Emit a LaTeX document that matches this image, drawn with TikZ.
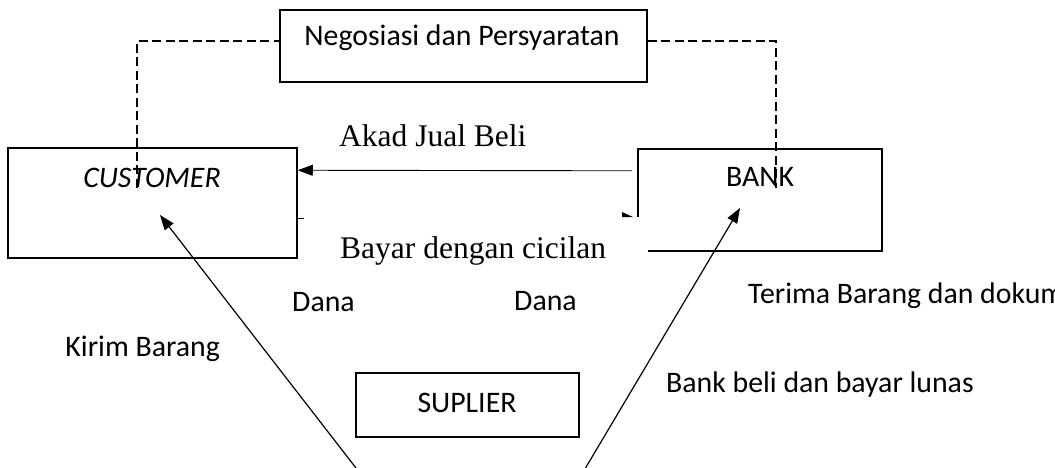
\documentclass[tikz,border=0pt]{standalone}
\usepackage{fontspec}
\setmainfont{Carlito}
\newfontfamily\timesfont{Liberation Serif}
\usetikzlibrary{arrows.meta}
\begin{document}
\begin{tikzpicture}[x=1pt,y=-1pt,
  boxline/.style={line width=1.5pt},
  entity/.style={draw, boxline, inner sep=0pt},
  dashline/.style={line width=1.4pt, dash pattern=on 9pt off 4.5pt},
  flow/.style={line width=1.2pt, -{Triangle[length=15pt,width=11pt]}},
  akad/.style={line width=0.9pt, -{Triangle[length=15pt,width=11pt]}},
  txt/.style={inner sep=0pt, font=\fontsize{29.8}{31}\selectfont},
  rm/.style={inner sep=0pt, font=\fontsize{31.5}{33}\selectfont\timesfont}]
\useasboundingbox (0,0) rectangle (1055,468);
\clip (0,0) rectangle (1055,468);

% parties
\node[entity, minimum width=367pt, minimum height=72pt] (nego) at (463.5,46) {};
\node[entity, minimum width=289pt, minimum height=110pt] (cust) at (152.5,203) {};
\node[minimum width=244pt, minimum height=102pt, inner sep=0pt] (bank) at (760,200) {};
\node[entity, minimum width=223pt, minimum height=64pt] (supl) at (467.5,405) {};

% the bank box is left open at its lower left corner
\draw[boxline] ([yshift=-68pt]bank.north west) -- (bank.north west) -- (bank.north east)
  -- (bank.south east) -- ([xshift=10pt]bank.south west);

% box captions
\node[txt, anchor=base] (negotxt) at (462,46) {Negosiasi dan Persyaratan};
\node[txt, anchor=base] (custtxt) at (152,187) {\itshape CUSTOMER};
\node[txt, anchor=base] (banktxt) at (760,186) {BANK};
\node[txt, anchor=base] (supltxt) at (467,412) {SUPLIER};

% negotiation links
\coordinate (dl) at (137,188);
\coordinate (dr) at (776,188);
\draw[dashline] (dl) |- ([yshift=5pt]nego.west);
\draw[dashline] ([yshift=5pt]nego.east) -| (dr);

% sale contract
\draw[akad] ([xshift=-6pt,yshift=-22pt]bank.north west) -- ([yshift=-23pt]cust.north east);

% instalment arrow remnants
\draw[line width=1pt] ([yshift=-71pt]cust.north east) -- ++(6,0);
\fill (622,212) -- (633,217) -- (622,217) -- cycle;

% goods and payment flows
\coordinate (lb) at (356,468);
\coordinate (rb) at (585.5,468);
\draw[flow] (lb) -- ([xshift=7.5pt,yshift=-12pt]cust.center);
\draw[flow] (rb) -- ([xshift=-20pt,yshift=-8pt]bank.center);

% labels
\node[rm, anchor=base west] (akadtxt) at (339,147) {Akad Jual Beli};
\node[rm, anchor=base west] (bayartxt) at (340,258) {Bayar dengan cicilan};
\node[txt, anchor=base west] (dana1) at (292,311) {Dana};
\node[txt, anchor=base west] (dana2) at (514,310) {Dana};
\node[txt, anchor=base east] (kirim) at (220,356) {Kirim Barang};
\node[txt, anchor=base west] (terima) at (748,303) {Terima Barang dan dokumen};
\node[txt, anchor=base west] (beli) at (666,392) {Bank beli dan bayar lunas};
\end{tikzpicture}
\end{document}
